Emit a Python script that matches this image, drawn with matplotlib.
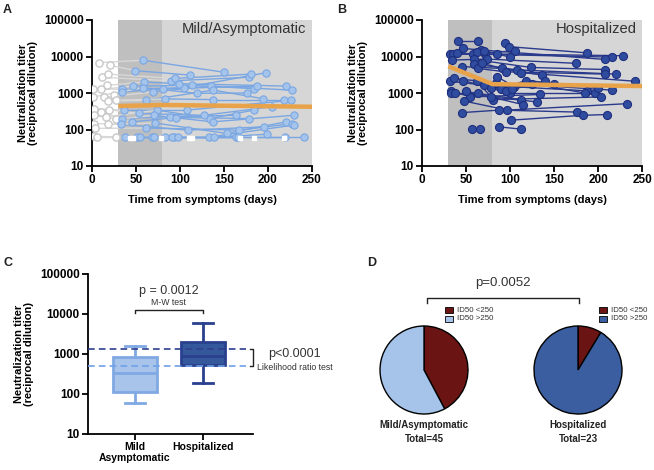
import matplotlib
matplotlib.use("Agg")
import matplotlib.pyplot as plt
from matplotlib.lines import Line2D
from matplotlib.patches import Rectangle
from matplotlib.ticker import FixedLocator, FixedFormatter, NullLocator

plt.rcParams['font.family'] = ['Liberation Sans', 'DejaVu Sans']

# ---------------- data ----------------
# Panel A: mild/asymptomatic longitudinal titers (subject id, day, titer)
a_subject = [1,1,1, 2,2,2, 3,3,3, 4,4,4, 5,5,5,5, 6,6,6,6, 7,7,7,7, 8,8,8,8,
             9,9,9,9, 10,10,10,10, 11,11,11,11, 12,12,12,12, 13,13,13,13,
             14,14,14,14, 15,15,15,15, 16,16,16,16, 17,17,17,17, 18,18,18,18,
             19,19,19,19, 20,20,20,20, 21,21,21,21, 22,22,22,22, 23,23,23,23,
             24,24,24,24, 25,25,25, 26,26,26, 27,27]
a_day = [8,58,150, 20,49,111, 11,90,178, 18,94,181, 1,34,105,198, 17,59,99,220,
         10,47,114,184, 25,34,81,188, 14,69,135,227, 1,58,119,176, 18,61,138,194,
         27,83,138,218, 2,36,108,226, 19,53,127,204, 10,34,89,164, 2,46,95,178,
         16,74,134,184, 27,70,137,229, 2,33,109,195, 18,72,153,220, 3,61,167,227,
         2,38,133,229, 6,51,139,199, 27,55,164,241, 68,93,166, 70,91,219, 83,98]
a_titer = [6800,7900,3700, 5800,4100,3100, 2700,2150,2700, 3300,2500,3300,
           1320,1250,1400,3600, 1620,2000,1800,1550, 1250,1550,1620,1320,
           870,1070,1300,1550, 760,1070,1550,1200, 780,1400,980,1000,
           600,630,1200,700, 630,690,660,660, 370,340,340,630, 350,275,245,417,
           305,200,225,245, 245,162,213,200, 220,340,200,340, 188,245,162,245,
           145,138,96,118, 138,150,78,162, 107,110,96,145, 65,62,62,132,
           62,62,62,74, 62,62,62,62, 62,62,62, 62,62,62, 62,62]
a_censored_day = [43, 47, 78, 110, 114, 168, 184, 218]
a_censored_titer = [60, 60, 60, 60, 60, 60, 60, 60]
a_fit_day = [30, 80, 250]
a_fit_titer = [440, 470, 420]

# Panel B: hospitalized longitudinal titers
b_subject = [1,1, 2,2,2, 3,3,3, 4,4,4, 5,5,5, 6,6,6, 7,7,7, 8,8,8, 9,9,9,
             10,10,10, 11,11,11, 12,12,12, 13,13,13, 14,14,14, 15,15,15,
             16,16,16, 17,17,17, 18,18,18, 19,19,19, 20,20,20, 21,21,
             22,22,22, 23,23,23, 24,24,24, 25,25, 26,26, 27,27,27, 28,28,28,
             29,29,29, 30,30,30]
b_day = [41,64, 94,99,187, 32,85,228, 35,72,216, 40,58,106, 47,67,208,
         62,71,100, 34,74,175, 59,124,208, 45,91,136, 59,108,220, 64,95,208,
         68,112,242, 32,70,187, 36,84,216, 47,100,197, 62,81,203, 33,55,134,
         33,64,112, 38,78,131, 50,115, 48,97,233, 45,88,176, 101,183,210,
         57,66, 88,113, 85,105,150, 90,118,200, 95,125,185, 78,102,140]
b_titer = [26000,26000, 23000,18600,12600, 11500,11700,10500, 12000,11500,9600,
           12600,11700,14400, 16600,15100,8300, 13200,14400,9600, 8000,8500,6500,
           8300,5000,4400, 5300,4700,3100, 6200,4300,3300, 4700,3800,3300,
           6500,3600,2100, 2100,1650,1150, 2500,1900,1200, 2200,970,970,
           2200,660,780, 1150,780,910, 970,970,660, 970,780,570, 1130,480,
           600,340,510, 290,340,300, 180,245,257, 102,102, 118,102,
           2800,1500,1800, 1300,2200,1400, 1100,1800,1000, 1400,1250,2100]
b_fit_day = [30, 80, 250]
b_fit_titer = [5400, 1750, 1550]

# Panel C: box summaries
c_groups = ["Mild\nAsymptomatic", "Hospitalized"]
c_whislo = [58, 192]
c_q1 = [110, 531]
c_med = [329, 908]
c_q3 = [858, 2033]
c_whishi = [1615, 5845]
c_geo_means = [501, 1334]

# Panel D: pies
d_labels = ["ID50 <250", "ID50 >250"]
d_mild = [19, 26]
d_hosp = [2, 21]

yticks = [10, 100, 1000, 10000, 100000]
yticklabels = ["10", "100", "1000", "10000", "100000"]

# ---------------- figure ----------------
W, H = 654, 470
fig = plt.figure(figsize=(W / 100, H / 100), dpi=100)


def px_axes(x0, y0, x1, y1):
    return fig.add_axes([x0 / W, 1 - y1 / H, (x1 - x0) / W, (y1 - y0) / H])


def style_log_axis(ax):
    ax.set_yscale('log')
    ax.set_ylim(10, 100000)
    ax.yaxis.set_major_locator(FixedLocator(yticks))
    ax.yaxis.set_major_formatter(FixedFormatter(yticklabels))
    ax.yaxis.set_minor_locator(NullLocator())
    for s in ['top', 'right']:
        ax.spines[s].set_visible(False)
    for s in ['left', 'bottom']:
        ax.spines[s].set_linewidth(1.3)
    ax.tick_params(axis='both', which='major', length=4, width=1.3,
                   labelsize=8.5, pad=2)
    for lbl in ax.get_xticklabels() + ax.get_yticklabels():
        lbl.set_fontweight('bold')
    ax.set_ylabel("Neutralization titer\n(reciprocal dilution)", fontsize=8,
                  fontweight='bold', labelpad=4, linespacing=1.1)


def group(subj, days, titers):
    out = {}
    for s, d, t in zip(subj, days, titers):
        out.setdefault(s, ([], []))
        out[s][0].append(d)
        out[s][1].append(t)
    return list(out.values())


def time_panel(ax, subj, days, titers, fit_d, fit_t, title,
               line_c, face_c, edge_c, ms, early=False):
    ax.axvspan(30, 80, color='#bfbfbf', zorder=0, lw=0)
    ax.axvspan(80, 250, color='#d6d6d6', zorder=0, lw=0)
    for d, t in group(subj, days, titers):
        for i in range(len(d) - 1):
            c = '#d8d8d8' if (early and d[i] < 30) else line_c
            ax.plot(d[i:i + 2], t[i:i + 2], color=c, lw=1.0, zorder=2)
        for di, ti in zip(d, t):
            if early and di < 30:
                ax.plot(di, ti, 'o', ms=ms, mfc='white', mec='#c8c8c8',
                        mew=1.0, zorder=3)
            else:
                ax.plot(di, ti, 'o', ms=ms, mfc=face_c, mec=edge_c,
                        mew=0.8, zorder=4)
    ax.plot(fit_d, fit_t, color='#e8a34a', lw=3.2, zorder=6,
            solid_capstyle='butt')
    ax.set_xlim(0, 250)
    ax.set_xticks([0, 50, 100, 150, 200, 250])
    style_log_axis(ax)
    ax.set_xlabel("Time from symptoms (days)", fontsize=8, fontweight='bold',
                  labelpad=6)
    ax.text(0.975, 0.935, title, transform=ax.transAxes, ha='right',
            va='center', fontsize=10.6, color='#333333', zorder=7)


# Panel A
axA = px_axes(92, 20, 312, 166)
time_panel(axA, a_subject, a_day, a_titer, a_fit_day, a_fit_titer,
           "Mild/Asymptomatic", '#7aa7e3', '#a5c4ec', '#7aa7e3', 5.2,
           early=True)
axA.plot(a_censored_day, a_censored_titer, 's', ms=2.2, mfc='white',
         mec='white', zorder=5)

# Panel B
axB = px_axes(422, 20, 642, 166)
time_panel(axB, b_subject, b_day, b_titer, b_fit_day, b_fit_titer,
           "Hospitalized", '#2a3a8c', '#2f4c9f', '#1f2f7f', 5.8)

# Panel C
axC = px_axes(88, 274, 253, 434)
stats = []
for i in range(2):
    stats.append(dict(med=c_med[i], q1=c_q1[i], q3=c_q3[i],
                      whislo=c_whislo[i], whishi=c_whishi[i], fliers=[],
                      label=c_groups[i]))
face = ['#a9c4ea', '#35589b']
edge = ['#80a9e4', '#29408f']
for i in range(2):
    axC.bxp([stats[i]], positions=[i + 1], widths=0.65, patch_artist=True,
            showfliers=False, capwidths=0.3, manage_ticks=False,
            boxprops=dict(facecolor=face[i], edgecolor=edge[i], lw=2),
            whiskerprops=dict(color=edge[i], lw=2),
            capprops=dict(color=edge[i], lw=2),
            medianprops=dict(color=edge[i], lw=2))
axC.set_xlim(0.31, 2.74)
axC.set_xticks([1, 2])
axC.set_xticklabels(c_groups, fontsize=7.5, fontweight='bold',
                    linespacing=1.1)
style_log_axis(axC)
axC.tick_params(axis='x', labelsize=7.5)
for lbl in axC.get_xticklabels():
    lbl.set_fontweight('bold')
axC.plot([0.31, 2.64], [c_geo_means[1]] * 2, ls=(0, (4, 2.5)),
         color='#2e3f90', lw=1.2, clip_on=False, zorder=5)
axC.plot([0.31, 2.64], [c_geo_means[0]] * 2, ls=(0, (4, 2.5)),
         color='#6fa1e8', lw=1.2, clip_on=False, zorder=5)
# likelihood bracket
axC.plot([2.69, 2.74, 2.74, 2.69],
         [c_geo_means[1], c_geo_means[1], c_geo_means[0], c_geo_means[0]],
         color='#222222', lw=1.0, clip_on=False)
axC.text(3.35, 1000, "p<0.0001", ha='center', va='center', fontsize=9,
         color='#333333', clip_on=False)
axC.text(3.35, 450, "Likelihood ratio test", ha='center', va='center',
         fontsize=6.3, color='#333333', clip_on=False)
# M-W bracket
axC.plot([1, 1, 2, 2], [10600, 12600, 12600, 10600], color='#222222',
         lw=1.0, clip_on=False)
axC.text(1.5, 19500, "M-W test", ha='center', va='center', fontsize=6.3,
         color='#333333')
axC.text(1.5, 38000, "p = 0.0012", ha='center', va='center', fontsize=9,
         color='#333333')

# Panel D pies
pie_colors = [['#6b1414', '#a6c4ea'], ['#6b1414', '#3a5e9f']]
for (cx, cy, vals, cols, name, total, lx) in [
        (424, 370, d_mild, pie_colors[0], "Mild/Asymptomatic", 45, 445),
        (578, 370, d_hosp, pie_colors[1], "Hospitalized", 23, 599)]:
    r = 44
    ax = px_axes(cx - 50, cy - 50, cx + 50, cy + 50)
    ax.pie(vals, colors=cols, startangle=90, counterclock=False,
           wedgeprops=dict(edgecolor='black', linewidth=1.0))
    ax.set_xlim(-50 / r, 50 / r)
    ax.set_ylim(-50 / r, 50 / r)
    ax.set_aspect('equal')
    ax.axis('off')
    fig.text(cx / W, 1 - 425 / H, name, ha='center', va='center',
             fontsize=7, fontweight='bold', color='#222222')
    fig.text(cx / W, 1 - 439 / H, f"Total={total}", ha='center',
             va='center', fontsize=7, fontweight='bold', color='#222222')
    for j, (lab, col) in enumerate(zip(d_labels, cols)):
        yy = 310 + 9 * j
        fig.patches.append(Rectangle((lx / W, 1 - (yy + 3) / H), 8 / W,
                                     6 / H, transform=fig.transFigure,
                                     facecolor=col, edgecolor='black',
                                     lw=0.6))
        fig.text((lx + 12) / W, 1 - yy / H, lab, ha='left', va='center',
                 fontsize=5.7, color='#333333')

# D bracket
bx0, bx1, by = 427, 579, 298
fig.add_artist(Line2D([bx0 / W, bx0 / W, bx1 / W, bx1 / W],
                      [1 - 303 / H, 1 - by / H, 1 - by / H, 1 - 303 / H],
                      transform=fig.transFigure, color='#222222', lw=1.0))
fig.text(503 / W, 1 - 283 / H, "p=0.0052", ha='center', va='center',
         fontsize=9.5, color='#333333')

# panel letters
for lab, x, y in [("A", 3, 4), ("B", 337, 4), ("C", 3, 257), ("D", 367, 257)]:
    fig.text(x / W, 1 - y / H, lab, ha='left', va='top', fontsize=9,
             fontweight='bold', color='#222222')

fig.savefig("out.png", dpi=100, facecolor='white')
